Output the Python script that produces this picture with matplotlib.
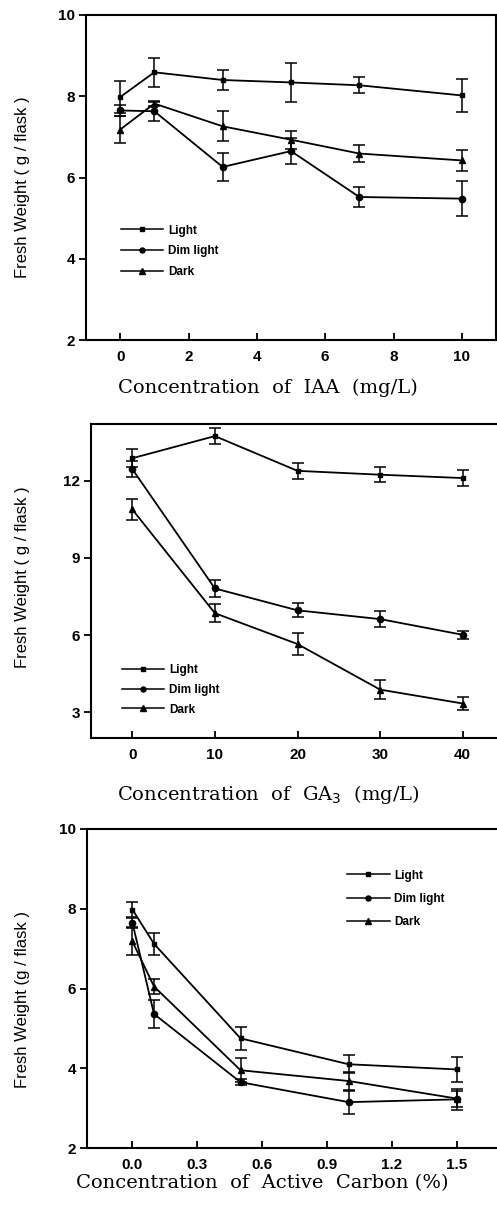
import matplotlib
matplotlib.use("Agg")
import matplotlib.pyplot as plt

# IAA panel
iaa_x = [0, 1, 3, 5, 7, 10]
iaa_light = [7.98, 8.59, 8.40, 8.34, 8.27, 8.02]
iaa_light_err = [0.40, 0.35, 0.25, 0.47, 0.20, 0.40]
iaa_dim = [7.65, 7.63, 6.26, 6.65, 5.52, 5.48]
iaa_dim_err = [0.13, 0.25, 0.35, 0.32, 0.24, 0.43]
iaa_dark = [7.18, 7.82, 7.26, 6.93, 6.59, 6.42]
iaa_dark_err = [0.33, 0.05, 0.37, 0.22, 0.22, 0.25]

# GA3 panel
ga_x = [0, 10, 20, 30, 40]
ga_light = [12.87, 13.73, 12.38, 12.23, 12.10]
ga_light_err = [0.36, 0.30, 0.30, 0.29, 0.30]
ga_dim = [12.45, 7.81, 6.96, 6.62, 6.01]
ga_dim_err = [0.30, 0.32, 0.27, 0.32, 0.16]
ga_dark = [10.88, 6.85, 5.65, 3.88, 3.34]
ga_dark_err = [0.42, 0.35, 0.43, 0.36, 0.26]

# Active carbon panel
ac_x = [0, 0.1, 0.5, 1.0, 1.5]
ac_light = [7.98, 7.12, 4.75, 4.10, 3.97]
ac_light_err = [0.18, 0.28, 0.28, 0.23, 0.31]
ac_dim = [7.65, 5.36, 3.65, 3.15, 3.22]
ac_dim_err = [0.12, 0.36, 0.07, 0.29, 0.26]
ac_dark = [7.18, 6.05, 3.95, 3.68, 3.24]
ac_dark_err = [0.33, 0.20, 0.30, 0.22, 0.20]

labels = ["Light", "Dim light", "Dark"]
markers = ["s", "o", "^"]
msizes = [3.5, 4.5, 5]

W, H = 497, 1207
fig = plt.figure(figsize=(W / 100, H / 100), dpi=100)


def make_axes(left, right, top, bottom):
    return fig.add_axes([left / W, 1 - bottom / H, (right - left) / W, (bottom - top) / H])


def draw_panel(ax, x, series, errs, xlim, ylim, xticks, yticks, xticklabels, leg_anchor, leg_space):
    lines = []
    for y, e, m, ms, lab in zip(series, errs, markers, msizes, labels):
        c = ax.errorbar(x, y, yerr=e, color="black", marker=m, markersize=ms, lw=1.3,
                        elinewidth=1.1, capsize=4, capthick=1.1, label=lab)
        lines.append(c[0])
    ax.set_xlim(*xlim)
    ax.set_ylim(*ylim)
    ax.set_xticks(xticks)
    ax.set_xticklabels(xticklabels)
    ax.set_yticks(yticks)
    for s in ax.spines.values():
        s.set_linewidth(1.5)
    ax.tick_params(axis="y", direction="out", length=5, width=1.3, pad=3)
    ax.tick_params(axis="x", direction="in", length=5, width=1.3, pad=7)
    for t in ax.get_xticklabels() + ax.get_yticklabels():
        t.set_fontweight("bold")
        t.set_fontsize(11)
        t.set_fontfamily("Liberation Sans")
    leg = ax.legend(lines, labels, loc="upper left", bbox_to_anchor=leg_anchor, frameon=False,
                    borderpad=0, borderaxespad=0, handlelength=3.6, handletextpad=0.4,
                    labelspacing=leg_space, markerscale=0.8,
                    prop={"family": "Liberation Sans", "size": 8.5, "weight": "bold"})
    for h in leg.legend_handles:
        h.set_linewidth(1.1)


ax1 = make_axes(86, 496, 15, 340)
draw_panel(ax1, iaa_x, [iaa_light, iaa_dim, iaa_dark], [iaa_light_err, iaa_dim_err, iaa_dark_err],
           (-1, 11), (2, 10), [0, 2, 4, 6, 8, 10], [2, 4, 6, 8, 10],
           ["0", "2", "4", "6", "8", "10"], (0.085, 0.355), 0.75)

ax2 = make_axes(91, 504, 424, 738)
draw_panel(ax2, ga_x, [ga_light, ga_dim, ga_dark], [ga_light_err, ga_dim_err, ga_dark_err],
           (-5, 45), (2, 14.2), [0, 10, 20, 30, 40], [3, 6, 9, 12],
           ["0", "10", "20", "30", "40"], (0.075, 0.235), 0.65)

ax3 = make_axes(87, 500, 829, 1148)
draw_panel(ax3, ac_x, [ac_light, ac_dim, ac_dark], [ac_light_err, ac_dim_err, ac_dark_err],
           (-0.21, 1.70), (2, 10), [0.0, 0.3, 0.6, 0.9, 1.2, 1.5], [2, 4, 6, 8, 10],
           ["0.0", "0.3", "0.6", "0.9", "1.2", "1.5"], (0.63, 0.873), 0.95)

ylab = "Fresh Weight ( g / flask )"
fig.text(23 / W, 1 - 187 / H, ylab, rotation=90, ha="center", va="center",
         family="Liberation Sans", fontsize=12)
fig.text(23 / W, 1 - 577 / H, ylab, rotation=90, ha="center", va="center",
         family="Liberation Sans", fontsize=12)
fig.text(23 / W, 1 - 1000 / H, "Fresh Weight (g / flask )", rotation=90, ha="center", va="center",
         family="Liberation Sans", fontsize=12)

fig.text(268 / W, 1 - 388 / H, "Concentration  of  IAA  (mg/L)", ha="center", va="center",
         family="DejaVu Serif", fontsize=14)
fig.text(268 / W, 1 - 795 / H, "Concentration  of  GA$_3$  (mg/L)", ha="center", va="center",
         family="DejaVu Serif", fontsize=14)
fig.text(262 / W, 1 - 1183 / H, "Concentration  of  Active  Carbon (%)", ha="center", va="center",
         family="DejaVu Serif", fontsize=14)

fig.savefig("out.png", dpi=100)
